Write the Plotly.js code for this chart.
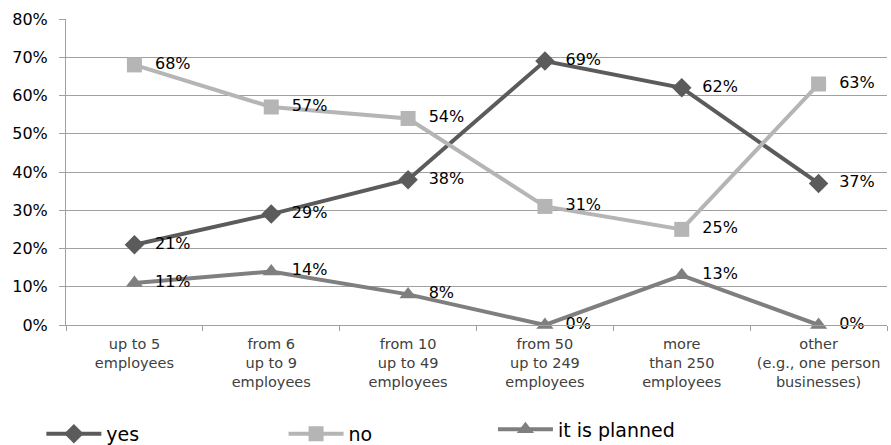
<!DOCTYPE html>
<html>
<head>
<meta charset="utf-8">
<script src="https://cdn.plot.ly/plotly-3.0.1.min.js"></script>
<style>
  html, body { margin: 0; padding: 0; background: #fff; }
  #chart { width: 891px; height: 445px; }
</style>
</head>
<body>
<div id="chart"></div>
<script>
// Company size categories (x axis)
const categories = [
  "up to 5<br>employees",
  "from 6<br>up to 9<br>employees",
  "from 10<br>up to 49<br>employees",
  "from 50<br>up to 249<br>employees",
  "more<br>than 250<br>employees",
  "other<br>(e.g., one person<br>businesses)"
];

// Share of answers per category, in percent
const yesValues = [21, 29, 38, 69, 62, 37];
const noValues = [68, 57, 54, 31, 25, 63];
const plannedValues = [11, 14, 8, 0, 13, 0];

const yTickVals = [0, 10, 20, 30, 40, 50, 60, 70, 80];
const yTickText = yTickVals.map(v => v + "%");

const FONT = "DejaVu Sans, Verdana, sans-serif";
const labelFont = { family: FONT, size: 16, color: "#000" };

function series(name, values, color, symbol, legendId) {
  return {
    type: "scatter",
    mode: "lines+markers+text",
    name: name,
    x: categories,
    y: values,
    // leading spaces keep the value labels clear of the markers
    text: values.map(v => "\u00a0\u00a0" + v + "%"),
    textposition: "middle right",
    textfont: labelFont,
    line: { color: color, width: 4 },
    marker: { symbol: symbol, size: 15, color: color },
    cliponaxis: false,
    legend: legendId
  };
}

const data = [
  series("yes", yesValues, "#5b5b5b", "diamond", "legend"),
  series("no", noValues, "#b5b5b5", "square", "legend2"),
  series("it is planned", plannedValues, "#7f7f7f", "triangle-up", "legend3")
];

const legendBase = {
  orientation: "h",
  xref: "paper", yref: "container",
  yanchor: "middle",
  font: { family: FONT, size: 19, color: "#000" },
  bgcolor: "rgba(0,0,0,0)",
  itemwidth: 55
};

const layout = {
  width: 891,
  height: 445,
  margin: { l: 66, r: 4, t: 19, b: 120 },
  paper_bgcolor: "#fff",
  plot_bgcolor: "#fff",
  showlegend: true,
  font: { family: FONT, color: "#000" },
  xaxis: {
    type: "category",
    tickson: "boundaries",
    ticks: "outside",
    ticklen: 5,
    tickcolor: "#a0a0a0",
    showline: true,
    linecolor: "#a0a0a0",
    linewidth: 1,
    showgrid: false,
    ticklabelstandoff: 6,
    tickfont: { family: FONT, size: 14.5, color: "#404040" },
    range: [-0.5, 5.5],
    fixedrange: true
  },
  yaxis: {
    range: [0, 80],
    tickvals: yTickVals,
    ticktext: yTickText,
    ticks: "outside",
    ticklen: 6,
    tickcolor: "#a0a0a0",
    showline: true,
    linecolor: "#a0a0a0",
    linewidth: 1,
    showgrid: true,
    gridcolor: "#a0a0a0",
    gridwidth: 1,
    zeroline: false,
    ticklabelstandoff: 8,
    tickfont: { family: FONT, size: 16, color: "#000" },
    fixedrange: true
  },
  legend: Object.assign({}, legendBase, { x: -0.03, y: 0.025 }),
  legend2: Object.assign({}, legendBase, { x: 0.265, y: 0.025 }),
  legend3: Object.assign({}, legendBase, { x: 0.52, y: 0.035 })
};

Plotly.newPlot("chart", data, layout, { displayModeBar: false, staticPlot: true });
</script>
</body>
</html>
